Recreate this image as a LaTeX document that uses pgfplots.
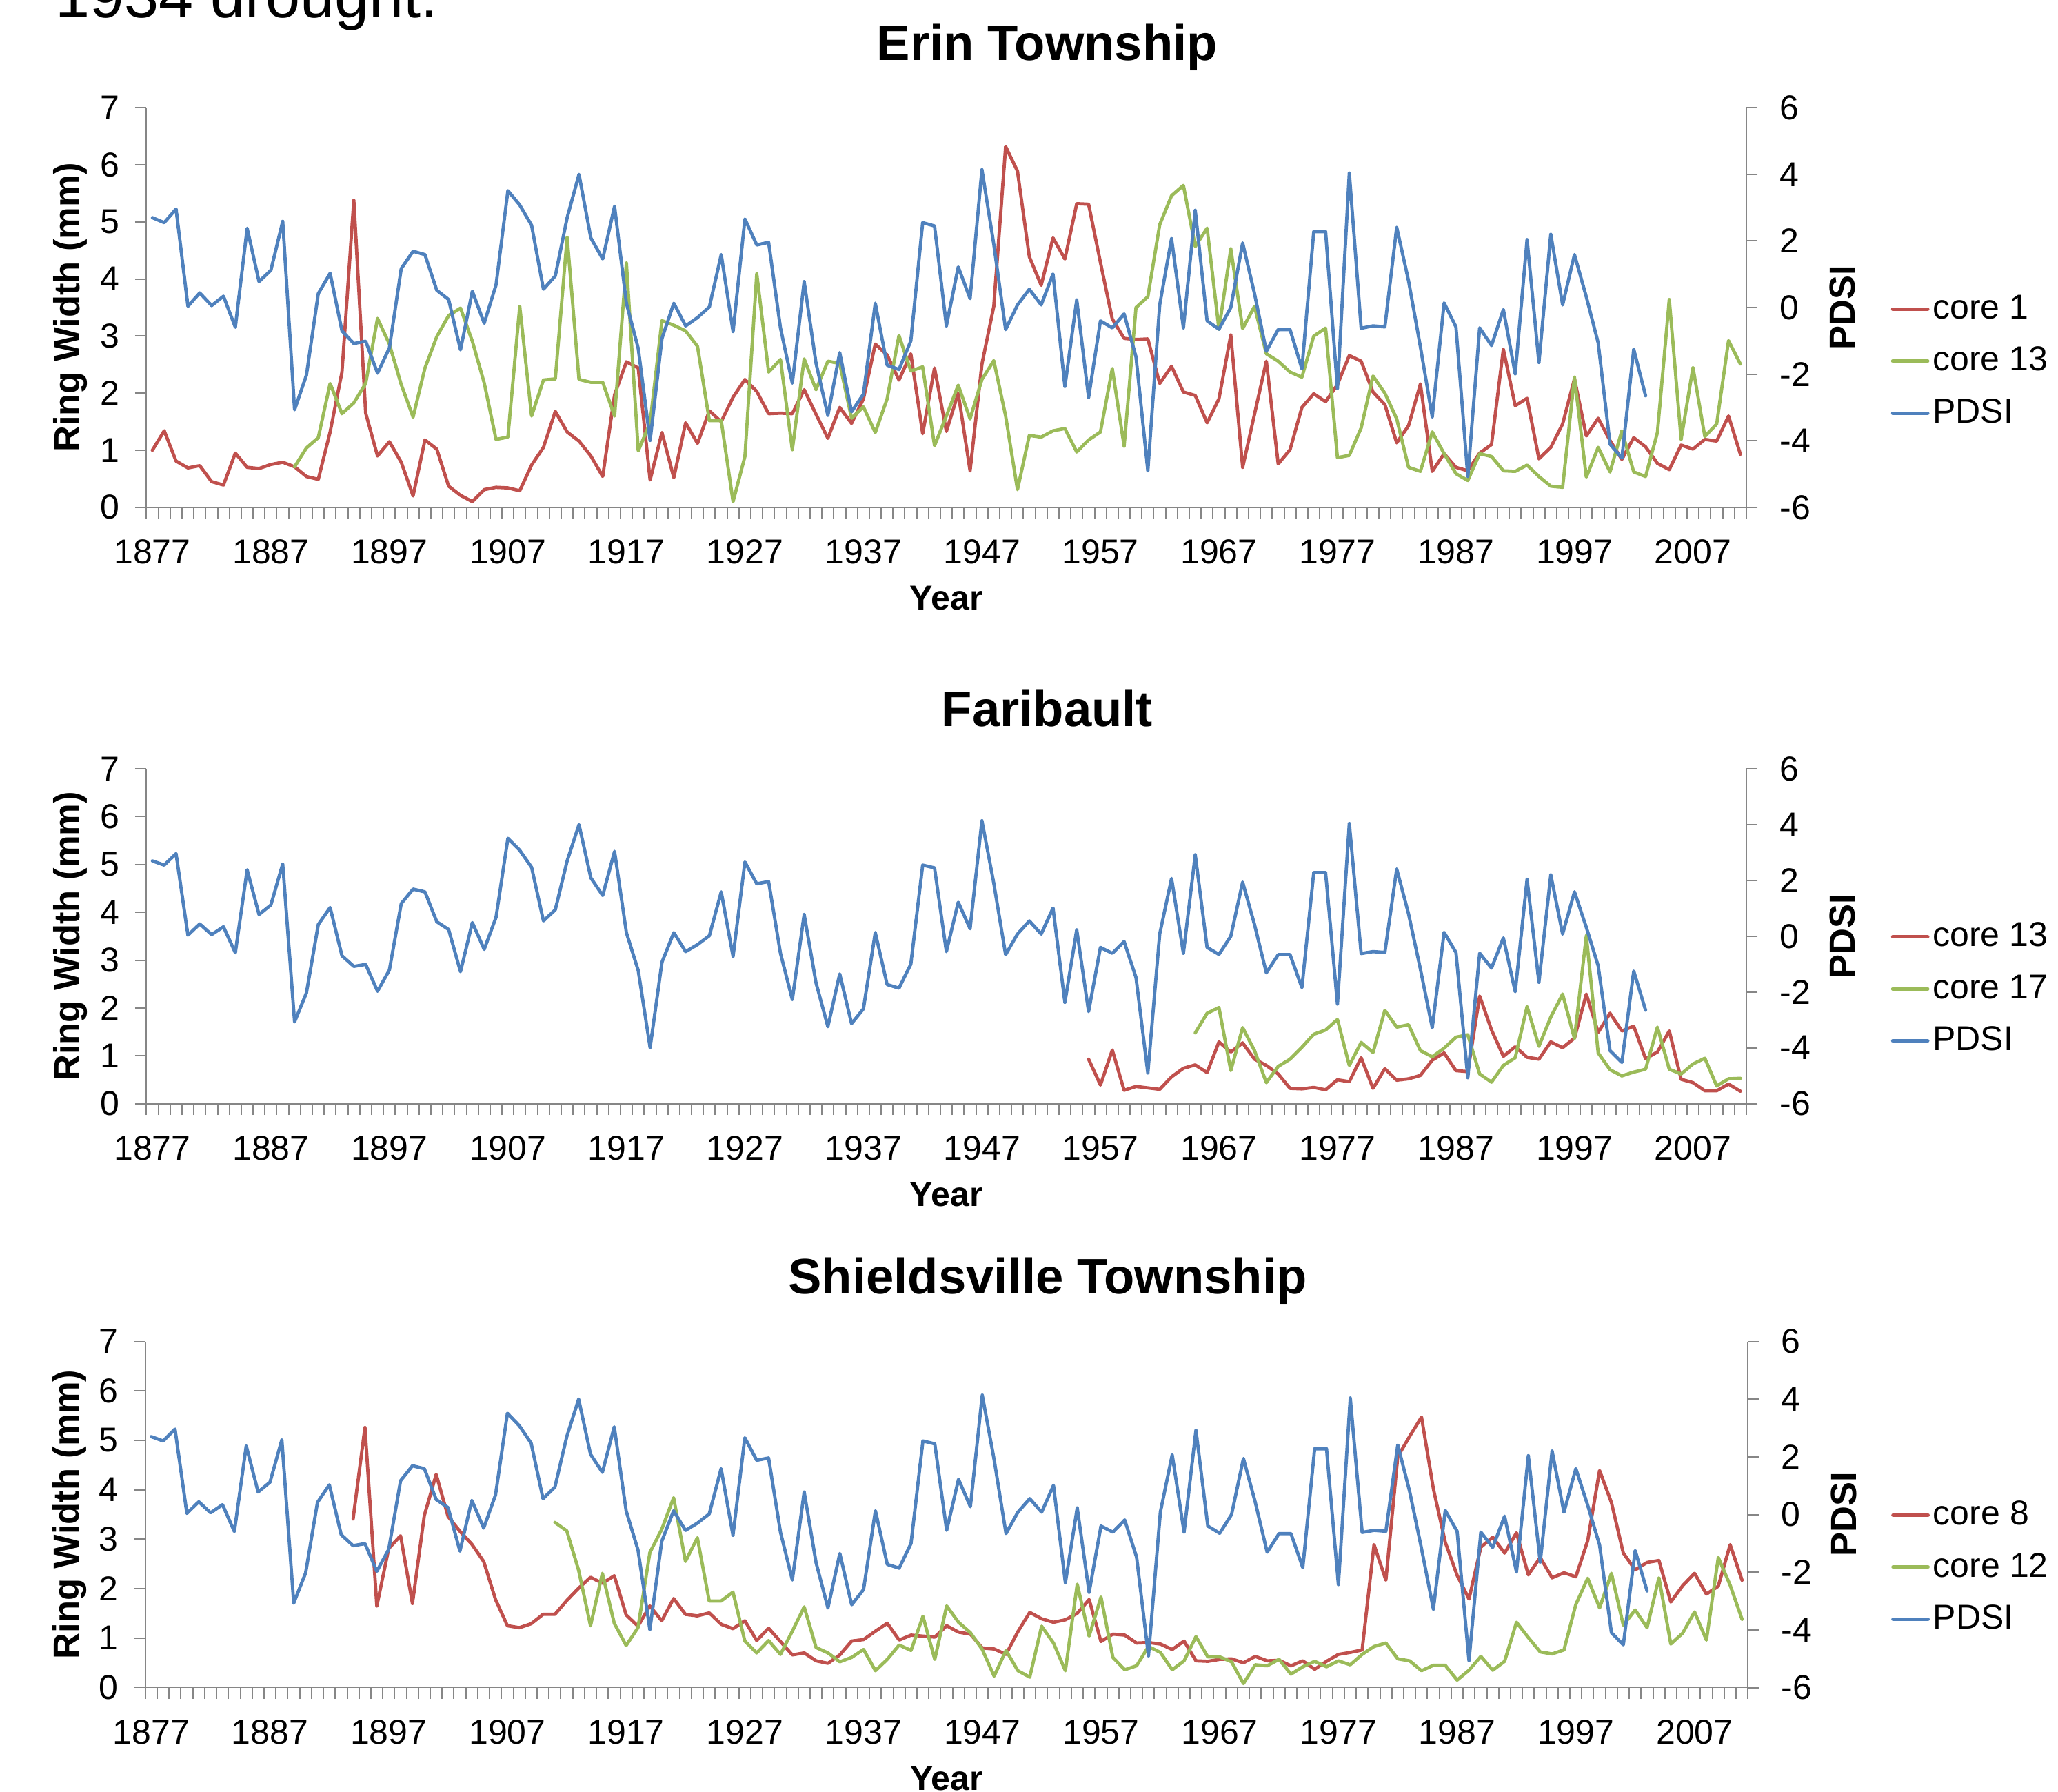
\documentclass[border=0pt]{standalone}
\usepackage{fontspec}
\setmainfont{Liberation Sans}
\usepackage{pgfplots}
\usepackage{pgfplotstable}
\pgfplotsset{compat=1.18}

\definecolor{cred}{HTML}{C0504D}
\definecolor{cgreen}{HTML}{9BBB59}
\definecolor{cblue}{HTML}{4F81BD}
\definecolor{axisgray}{HTML}{868686}

% PDSI (same series in all three panels)
\pgfplotstableread[row sep=\\]{year v\\
1877 2.70\\ 1878 2.55\\ 1879 2.96\\ 1880 0.04\\ 1881 0.44\\ 1882 0.06\\ 1883 0.34\\ 1884 -0.59\\ 1885 2.38\\ 1886 0.78\\
1887 1.12\\ 1888 2.59\\ 1889 -3.07\\ 1890 -2.03\\ 1891 0.42\\ 1892 1.03\\ 1893 -0.70\\ 1894 -1.08\\ 1895 -1.01\\ 1896 -1.97\\
1897 -1.21\\ 1898 1.17\\ 1899 1.69\\ 1900 1.59\\ 1901 0.52\\ 1902 0.24\\ 1903 -1.27\\ 1904 0.49\\ 1905 -0.47\\ 1906 0.68\\
1907 3.51\\ 1908 3.08\\ 1909 2.47\\ 1910 0.55\\ 1911 0.95\\ 1912 2.70\\ 1913 4.00\\ 1914 2.09\\ 1915 1.46\\ 1916 3.04\\
1917 0.13\\ 1918 -1.23\\ 1919 -3.99\\ 1920 -0.93\\ 1921 0.13\\ 1922 -0.55\\ 1923 -0.30\\ 1924 0.02\\ 1925 1.59\\ 1926 -0.72\\
1927 2.66\\ 1928 1.88\\ 1929 1.96\\ 1930 -0.61\\ 1931 -2.27\\ 1932 0.78\\ 1933 -1.67\\ 1934 -3.24\\ 1935 -1.35\\ 1936 -3.13\\
1937 -2.60\\ 1938 0.13\\ 1939 -1.73\\ 1940 -1.86\\ 1941 -1.00\\ 1942 2.55\\ 1943 2.45\\ 1944 -0.55\\ 1945 1.22\\ 1946 0.27\\
1947 4.14\\ 1948 1.90\\ 1949 -0.66\\ 1950 0.08\\ 1951 0.55\\ 1952 0.08\\ 1953 1.01\\ 1954 -2.37\\ 1955 0.23\\ 1956 -2.70\\
1957 -0.40\\ 1958 -0.61\\ 1959 -0.19\\ 1960 -1.48\\ 1961 -4.90\\ 1962 0.08\\ 1963 2.07\\ 1964 -0.61\\ 1965 2.92\\ 1966 -0.40\\
1967 -0.65\\ 1968 0.00\\ 1969 1.94\\ 1970 0.42\\ 1971 -1.31\\ 1972 -0.66\\ 1973 -0.66\\ 1974 -1.84\\ 1975 2.28\\ 1976 2.28\\
1977 -2.43\\ 1978 4.04\\ 1979 -0.62\\ 1980 -0.55\\ 1981 -0.58\\ 1982 2.41\\ 1983 0.80\\ 1984 -1.18\\ 1985 -3.28\\ 1986 0.14\\
1987 -0.58\\ 1988 -5.07\\ 1989 -0.61\\ 1990 -1.14\\ 1991 -0.06\\ 1992 -1.99\\ 1993 2.04\\ 1994 -1.65\\ 1995 2.20\\ 1996 0.08\\
1997 1.59\\ 1998 0.32\\ 1999 -1.06\\ 2000 -4.10\\ 2001 -4.52\\ 2002 -1.25\\ 2003 -2.65\\
}\pdsi

% Erin Township, core 1
\pgfplotstableread[row sep=\\]{year v\\
1877 1.00\\ 1878 1.34\\ 1879 0.81\\ 1880 0.69\\ 1881 0.73\\ 1882 0.45\\ 1883 0.39\\ 1884 0.95\\ 1885 0.70\\ 1886 0.68\\
1887 0.75\\ 1888 0.79\\ 1889 0.71\\ 1890 0.54\\ 1891 0.49\\ 1892 1.32\\ 1893 2.37\\ 1894 5.38\\ 1895 1.65\\ 1896 0.90\\
1897 1.15\\ 1898 0.79\\ 1899 0.20\\ 1900 1.18\\ 1901 1.02\\ 1902 0.37\\ 1903 0.21\\ 1904 0.10\\ 1905 0.31\\ 1906 0.35\\
1907 0.34\\ 1908 0.29\\ 1909 0.74\\ 1910 1.05\\ 1911 1.68\\ 1912 1.32\\ 1913 1.16\\ 1914 0.90\\ 1915 0.54\\ 1916 1.97\\
1917 2.55\\ 1918 2.44\\ 1919 0.48\\ 1920 1.31\\ 1921 0.52\\ 1922 1.48\\ 1923 1.12\\ 1924 1.69\\ 1925 1.50\\ 1926 1.93\\
1927 2.24\\ 1928 2.03\\ 1929 1.64\\ 1930 1.65\\ 1931 1.64\\ 1932 2.06\\ 1933 1.63\\ 1934 1.21\\ 1935 1.75\\ 1936 1.47\\
1937 1.90\\ 1938 2.86\\ 1939 2.67\\ 1940 2.23\\ 1941 2.69\\ 1942 1.29\\ 1943 2.44\\ 1944 1.33\\ 1945 2.00\\ 1946 0.64\\
1947 2.51\\ 1948 3.52\\ 1949 6.32\\ 1950 5.89\\ 1951 4.39\\ 1952 3.89\\ 1953 4.72\\ 1954 4.35\\ 1955 5.32\\ 1956 5.31\\
1957 4.29\\ 1958 3.30\\ 1959 2.96\\ 1960 2.94\\ 1961 2.95\\ 1962 2.17\\ 1963 2.47\\ 1964 2.02\\ 1965 1.96\\ 1966 1.48\\
1967 1.90\\ 1968 3.02\\ 1969 0.70\\ 1970 1.63\\ 1971 2.56\\ 1972 0.76\\ 1973 1.01\\ 1974 1.75\\ 1975 1.99\\ 1976 1.85\\
1977 2.15\\ 1978 2.66\\ 1979 2.56\\ 1980 2.02\\ 1981 1.80\\ 1982 1.13\\ 1983 1.43\\ 1984 2.16\\ 1985 0.63\\ 1986 0.94\\
1987 0.70\\ 1988 0.64\\ 1989 0.95\\ 1990 1.10\\ 1991 2.77\\ 1992 1.78\\ 1993 1.91\\ 1994 0.85\\ 1995 1.05\\ 1996 1.46\\
1997 2.25\\ 1998 1.25\\ 1999 1.56\\ 2000 1.17\\ 2001 0.84\\ 2002 1.22\\ 2003 1.06\\ 2004 0.77\\ 2005 0.66\\ 2006 1.09\\
2007 1.02\\ 2008 1.19\\ 2009 1.16\\ 2010 1.60\\ 2011 0.93\\
}\erinA

% Erin Township, core 13
\pgfplotstableread[row sep=\\]{year v\\
1889 0.71\\ 1890 1.04\\ 1891 1.22\\ 1892 2.17\\ 1893 1.64\\ 1894 1.83\\ 1895 2.17\\ 1896 3.31\\
1897 2.86\\ 1898 2.15\\ 1899 1.58\\ 1900 2.44\\ 1901 2.99\\ 1902 3.36\\ 1903 3.49\\ 1904 2.91\\ 1905 2.18\\ 1906 1.19\\
1907 1.23\\ 1908 3.52\\ 1909 1.60\\ 1910 2.23\\ 1911 2.25\\ 1912 4.73\\ 1913 2.24\\ 1914 2.19\\ 1915 2.19\\ 1916 1.60\\
1917 4.28\\ 1918 0.99\\ 1919 1.48\\ 1920 3.27\\ 1921 3.19\\ 1922 3.09\\ 1923 2.82\\ 1924 1.52\\ 1925 1.52\\ 1926 0.10\\
1927 0.89\\ 1928 4.09\\ 1929 2.37\\ 1930 2.59\\ 1931 1.01\\ 1932 2.60\\ 1933 2.06\\ 1934 2.56\\ 1935 2.52\\ 1936 1.56\\
1937 1.76\\ 1938 1.31\\ 1939 1.90\\ 1940 3.01\\ 1941 2.39\\ 1942 2.46\\ 1943 1.08\\ 1944 1.60\\ 1945 2.14\\ 1946 1.55\\
1947 2.24\\ 1948 2.57\\ 1949 1.60\\ 1950 0.31\\ 1951 1.26\\ 1952 1.23\\ 1953 1.34\\ 1954 1.38\\ 1955 0.97\\ 1956 1.18\\
1957 1.32\\ 1958 2.43\\ 1959 1.07\\ 1960 3.50\\ 1961 3.69\\ 1962 4.95\\ 1963 5.46\\ 1964 5.64\\ 1965 4.57\\ 1966 4.89\\
1967 3.12\\ 1968 4.53\\ 1969 3.13\\ 1970 3.52\\ 1971 2.69\\ 1972 2.56\\ 1973 2.37\\ 1974 2.28\\ 1975 3.00\\ 1976 3.14\\
1977 0.87\\ 1978 0.91\\ 1979 1.39\\ 1980 2.30\\ 1981 2.00\\ 1982 1.55\\ 1983 0.70\\ 1984 0.63\\ 1985 1.32\\ 1986 0.94\\
1987 0.59\\ 1988 0.47\\ 1989 0.94\\ 1990 0.89\\ 1991 0.64\\ 1992 0.63\\ 1993 0.74\\ 1994 0.54\\ 1995 0.37\\ 1996 0.35\\
1997 2.28\\ 1998 0.53\\ 1999 1.05\\ 2000 0.62\\ 2001 1.34\\ 2002 0.62\\ 2003 0.54\\ 2004 1.31\\ 2005 3.64\\ 2006 1.19\\
2007 2.45\\ 2008 1.24\\ 2009 1.46\\ 2010 2.92\\ 2011 2.51\\
}\erinB

% Faribault, core 13
\pgfplotstableread[row sep=\\]{year v\\
1956 0.93\\ 1957 0.39\\ 1958 1.12\\ 1959 0.28\\ 1960 0.36\\ 1961 0.33\\ 1962 0.30\\ 1963 0.56\\ 1964 0.74\\ 1965 0.81\\
1966 0.65\\ 1967 1.29\\ 1968 1.08\\ 1969 1.27\\ 1970 0.93\\ 1971 0.80\\ 1972 0.62\\ 1973 0.32\\ 1974 0.31\\ 1975 0.34\\
1976 0.29\\ 1977 0.50\\ 1978 0.46\\ 1979 0.96\\ 1980 0.32\\ 1981 0.73\\ 1982 0.49\\ 1983 0.52\\ 1984 0.59\\ 1985 0.91\\
1986 1.06\\ 1987 0.69\\ 1988 0.67\\ 1989 2.25\\ 1990 1.54\\ 1991 0.99\\ 1992 1.19\\ 1993 0.97\\ 1994 0.93\\ 1995 1.29\\
1996 1.17\\ 1997 1.37\\ 1998 2.29\\ 1999 1.49\\ 2000 1.89\\ 2001 1.52\\ 2002 1.62\\ 2003 0.94\\ 2004 1.08\\ 2005 1.52\\
2006 0.51\\ 2007 0.44\\ 2008 0.27\\ 2009 0.27\\ 2010 0.41\\ 2011 0.26\\
}\faribA

% Faribault, core 17
\pgfplotstableread[row sep=\\]{year v\\
1965 1.48\\ 1966 1.89\\ 1967 2.01\\ 1968 0.69\\ 1969 1.59\\ 1970 1.11\\ 1971 0.44\\ 1972 0.78\\ 1973 0.93\\ 1974 1.18\\
1975 1.45\\ 1976 1.54\\ 1977 1.76\\ 1978 0.80\\ 1979 1.28\\ 1980 1.07\\ 1981 1.95\\ 1982 1.60\\ 1983 1.65\\ 1984 1.11\\
1985 0.98\\ 1986 1.16\\ 1987 1.39\\ 1988 1.44\\ 1989 0.62\\ 1990 0.45\\ 1991 0.80\\ 1992 0.96\\ 1993 2.03\\ 1994 1.20\\
1995 1.81\\ 1996 2.29\\ 1997 1.36\\ 1998 3.51\\ 1999 1.06\\ 2000 0.71\\ 2001 0.58\\ 2002 0.66\\ 2003 0.72\\ 2004 1.60\\
2005 0.72\\ 2006 0.62\\ 2007 0.83\\ 2008 0.95\\ 2009 0.37\\ 2010 0.52\\ 2011 0.53\\
}\faribB

% Shieldsville Township, core 8
\pgfplotstableread[row sep=\\]{year v\\
1894 3.41\\ 1895 5.26\\ 1896 1.65\\ 1897 2.81\\ 1898 3.07\\ 1899 1.70\\ 1900 3.48\\ 1901 4.31\\ 1902 3.46\\ 1903 3.16\\
1904 2.90\\ 1905 2.55\\ 1906 1.78\\ 1907 1.25\\ 1908 1.21\\ 1909 1.29\\ 1910 1.48\\ 1911 1.48\\ 1912 1.76\\ 1913 2.01\\
1914 2.23\\ 1915 2.11\\ 1916 2.26\\ 1917 1.47\\ 1918 1.24\\ 1919 1.65\\ 1920 1.35\\ 1921 1.80\\ 1922 1.48\\ 1923 1.45\\
1924 1.51\\ 1925 1.28\\ 1926 1.19\\ 1927 1.35\\ 1928 0.95\\ 1929 1.20\\ 1930 0.93\\ 1931 0.66\\ 1932 0.70\\ 1933 0.54\\
1934 0.49\\ 1935 0.66\\ 1936 0.94\\ 1937 0.97\\ 1938 1.14\\ 1939 1.30\\ 1940 0.96\\ 1941 1.06\\ 1942 1.04\\ 1943 1.02\\
1944 1.25\\ 1945 1.12\\ 1946 1.08\\ 1947 0.80\\ 1948 0.78\\ 1949 0.67\\ 1950 1.13\\ 1951 1.52\\ 1952 1.39\\ 1953 1.32\\
1954 1.37\\ 1955 1.50\\ 1956 1.78\\ 1957 0.93\\ 1958 1.08\\ 1959 1.06\\ 1960 0.90\\ 1961 0.91\\ 1962 0.88\\ 1963 0.77\\
1964 0.94\\ 1965 0.54\\ 1966 0.53\\ 1967 0.57\\ 1968 0.58\\ 1969 0.50\\ 1970 0.63\\ 1971 0.54\\ 1972 0.55\\ 1973 0.44\\
1974 0.54\\ 1975 0.37\\ 1976 0.53\\ 1977 0.67\\ 1978 0.71\\ 1979 0.76\\ 1980 2.89\\ 1981 2.17\\ 1982 4.67\\ 1983 5.08\\
1984 5.47\\ 1985 4.02\\ 1986 2.94\\ 1987 2.27\\ 1988 1.79\\ 1989 2.84\\ 1990 3.04\\ 1991 2.72\\ 1992 3.13\\ 1993 2.28\\
1994 2.63\\ 1995 2.22\\ 1996 2.32\\ 1997 2.24\\ 1998 2.97\\ 1999 4.39\\ 2000 3.74\\ 2001 2.72\\ 2002 2.38\\ 2003 2.53\\
2004 2.57\\ 2005 1.73\\ 2006 2.06\\ 2007 2.31\\ 2008 1.89\\ 2009 2.05\\ 2010 2.89\\ 2011 2.17\\
}\shieldA

% Shieldsville Township, core 12
\pgfplotstableread[row sep=\\]{year v\\
1911 3.34\\ 1912 3.17\\ 1913 2.37\\ 1914 1.25\\ 1915 2.31\\ 1916 1.30\\ 1917 0.85\\ 1918 1.21\\ 1919 2.73\\ 1920 3.20\\
1921 3.84\\ 1922 2.55\\ 1923 3.03\\ 1924 1.75\\ 1925 1.75\\ 1926 1.93\\ 1927 0.94\\ 1928 0.70\\ 1929 0.95\\ 1930 0.67\\
1931 1.14\\ 1932 1.63\\ 1933 0.81\\ 1934 0.70\\ 1935 0.52\\ 1936 0.61\\ 1937 0.77\\ 1938 0.34\\ 1939 0.57\\ 1940 0.86\\
1941 0.75\\ 1942 1.44\\ 1943 0.57\\ 1944 1.65\\ 1945 1.32\\ 1946 1.11\\ 1947 0.77\\ 1948 0.23\\ 1949 0.75\\ 1950 0.34\\
1951 0.21\\ 1952 1.24\\ 1953 0.90\\ 1954 0.34\\ 1955 2.09\\ 1956 1.04\\ 1957 1.83\\ 1958 0.61\\ 1959 0.36\\ 1960 0.44\\
1961 0.83\\ 1962 0.71\\ 1963 0.36\\ 1964 0.54\\ 1965 1.03\\ 1966 0.62\\ 1967 0.62\\ 1968 0.52\\ 1969 0.08\\ 1970 0.46\\
1971 0.44\\ 1972 0.57\\ 1973 0.27\\ 1974 0.42\\ 1975 0.53\\ 1976 0.42\\ 1977 0.54\\ 1978 0.46\\ 1979 0.67\\ 1980 0.83\\
1981 0.90\\ 1982 0.58\\ 1983 0.54\\ 1984 0.34\\ 1985 0.45\\ 1986 0.45\\ 1987 0.15\\ 1988 0.35\\ 1989 0.63\\ 1990 0.35\\
1991 0.53\\ 1992 1.32\\ 1993 1.01\\ 1994 0.72\\ 1995 0.68\\ 1996 0.76\\ 1997 1.68\\ 1998 2.21\\ 1999 1.61\\ 2000 2.31\\
2001 1.26\\ 2002 1.57\\ 2003 1.21\\ 2004 2.22\\ 2005 0.88\\ 2006 1.10\\ 2007 1.53\\ 2008 0.96\\ 2009 2.63\\ 2010 2.07\\
2011 1.38\\
}\shieldB

\pgfplotsset{
  redline/.style={cred, line width=0.95pt, line join=round, line cap=round},
  greenline/.style={cgreen, line width=0.95pt, line join=round, line cap=round},
  blueline/.style={cblue, line width=0.95pt, line join=round, line cap=round},
  panel/.style={
    scale only axis, width=464.1pt,
    xmin=1876.5, xmax=2011.5,
    axis line style={draw=axisgray, line width=0.4pt},
    tick style={draw=axisgray, line width=0.4pt},
    tick align=outside, major tick length=3.3pt,
    /pgf/number format/assume math mode=true,
    tick label style={font=\fontsize{10}{12}\selectfont},
  },
  ringaxis/.style={panel,
    axis y line*=left, axis x line*=bottom,
    ymin=0, ymax=7, ytick={0,1,...,7},
    xtick={1876.5,1877.5,...,2011.5}, xticklabels={},
    extra x ticks={1877,1887,...,2007},
    extra x tick labels={1877,1887,1897,1907,1917,1927,1937,1947,1957,1967,1977,1987,1997,2007},
    extra x tick style={major tick length=0pt, xticklabel style={yshift=-5.9pt}},
    yticklabel style={xshift=-1pt},
    xlabel={Year}, ylabel={Ring Width (mm)},
    every axis x label/.style={at={(rel axis cs:0.5,0)}, yshift=-26.4pt, anchor=center,
      font=\bfseries\fontsize{10}{12}\selectfont},
    every axis y label/.style={at={(rel axis cs:-0.0474,0.5)}, rotate=90, anchor=center,
      font=\bfseries\fontsize{10.5}{12}\selectfont},
    every axis title/.style={at={(rel axis cs:0.563,1)}, yshift=17.5pt, anchor=center,
      font=\bfseries\fontsize{14.5}{17}\selectfont},
  },
  pdsiaxis/.style={panel,
    axis y line*=right, axis x line=none,
    ymin=-6, ymax=6, ytick={-6,-4,...,6},
    yticklabel style={xshift=2.9pt},
    ylabel={PDSI},
    every axis y label/.style={at={(rel axis cs:1.060,0.5)}, rotate=90, anchor=center,
      font=\bfseries\fontsize{10.5}{12}\selectfont},
    legend cell align=left,
    legend image code/.code={\draw[##1] (0pt,0pt) -- (10.2pt,0pt);},
    legend style={draw=none, fill=none, inner sep=0pt, anchor=west,
      font=\fontsize{10}{12}\selectfont, row sep=4.4pt,
      nodes={inner sep=1pt, text height=7.2pt, text depth=1.5pt}},
  },
}

\begin{document}
\begin{tikzpicture}
\useasboundingbox (0,0) rectangle (597pt,-519.6pt);
\node[anchor=base west, inner sep=0pt, font=\fontsize{18}{21}\selectfont] at (15.9pt,-5pt) {1934 drought.};

% ---- Erin Township ----
\begin{axis}[ringaxis, at={(42.48pt,-31.26pt)}, anchor=north west, height=115.9pt, title={Erin Township}]
\addplot[redline] table {\erinA};
\addplot[greenline] table {\erinB};
\end{axis}
\begin{axis}[pdsiaxis, at={(42.48pt,-31.26pt)}, anchor=north west, height=115.9pt,
  legend style={at={(1.090,0.366)}}]
\addlegendimage{redline}\addlegendentry{core 1}
\addlegendimage{greenline}\addlegendentry{core 13}
\addplot[blueline] table {\pdsi};
\addlegendentry{PDSI}
\end{axis}

% ---- Faribault ----
\begin{axis}[ringaxis, at={(42.48pt,-223.0pt)}, anchor=north west, height=97.14pt, title={Faribault}]
\addplot[redline] table {\faribA};
\addplot[greenline] table {\faribB};
\end{axis}
\begin{axis}[pdsiaxis, at={(42.48pt,-223.0pt)}, anchor=north west, height=97.14pt,
  legend style={at={(1.090,0.343)}}]
\addlegendimage{redline}\addlegendentry{core 13}
\addlegendimage{greenline}\addlegendentry{core 17}
\addplot[blueline] table {\pdsi};
\addlegendentry{PDSI}
\end{axis}

% ---- Shieldsville Township ----
\begin{axis}[ringaxis, at={(42.16pt,-389.1pt)}, anchor=north west, width=464.9pt, height=100.4pt, title={Shieldsville Township}]
\addplot[redline] table {\shieldA};
\addplot[greenline] table {\shieldB};
\end{axis}
\begin{axis}[pdsiaxis, at={(42.16pt,-389.1pt)}, anchor=north west, width=464.9pt, height=100.4pt,
  legend style={at={(1.089,0.348)}}]
\addlegendimage{redline}\addlegendentry{core 8}
\addlegendimage{greenline}\addlegendentry{core 12}
\addplot[blueline] table {\pdsi};
\addlegendentry{PDSI}
\end{axis}
\end{tikzpicture}
\end{document}
